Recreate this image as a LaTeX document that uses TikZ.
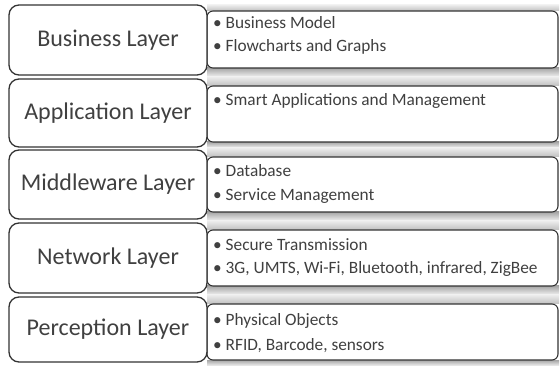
\documentclass[tikz,border=0pt]{standalone}
\usepackage{fontspec}
\setmainfont{Carlito}
\definecolor{inkdark}{HTML}{333333}
\definecolor{txtgray}{HTML}{404040}
\begin{document}
\begin{tikzpicture}[x=1pt,y=-1pt,
  layerbox/.style={draw=inkdark,line width=1.3pt,fill=white,rounded corners=10pt,
    minimum width=198pt,inner sep=0pt,font=\fontsize{24}{28}\selectfont,text=txtgray},
  infobox/.style={draw=inkdark,line width=1.1pt,fill=white,rounded corners=6pt,
    minimum width=351pt,inner sep=0pt},
  item/.style={anchor=base west,inner sep=0pt,font=\fontsize{17.3}{20}\selectfont,text=txtgray},
  bandtop/.style={top color=gray!15,bottom color=gray!50},
  bandbot/.style={top color=gray!70,bottom color=gray!10}]
\useasboundingbox (0,0) rectangle (560,366);
\fill[white] (0,0) rectangle (560,366);

% shaded bands behind the description boxes
\foreach \t/\a/\b/\e in {5/11/68/77, 77/86/142/148, 148/157/212/221, 221/230/286/295, 295/304/360/366}{
  \shade[bandtop] (207,\t) rectangle (559,\a);
  \shade[bandbot] (207,\b) rectangle (559,\e);
}

% description boxes
\node[infobox,minimum height=57pt] (R1) at (382.5,39.5) {};
\node[infobox,minimum height=56pt] (R2) at (382.5,114) {};
\node[infobox,minimum height=55pt] (R3) at (382.5,184.5) {};
\node[infobox,minimum height=56pt] (R4) at (382.5,258) {};
\node[infobox,minimum height=56pt] (R5) at (382.5,332) {};

% layer name boxes
\node[layerbox,minimum height=70pt] (L1) at (108,40) {Business Layer};
\node[layerbox,minimum height=68pt] (L2) at (108,113) {Application Layer};
\node[layerbox,minimum height=69pt] (L3) at (108,184.5) {Middleware Layer};
\node[layerbox,minimum height=70pt] (L4) at (108,258) {Network Layer};
\node[layerbox,minimum height=65pt] (L5) at (108,329.5) {Perception Layer};

% items
\node[item] (i11) at (213,29) {• Business Model};
\node[item] (i12) at (213,52) {• Flowcharts and Graphs};
\node[item] (i21) at (213,106) {• Smart Applications and Management};
\node[item] (i31) at (213,177) {• Database};
\node[item] (i32) at (213,201) {• Service Management};
\node[item] (i41) at (213,251) {• Secure Transmission};
\node[item] (i42) at (213,274) {• 3G, UMTS, Wi-Fi, Bluetooth, infrared, ZigBee};
\node[item] (i51) at (213,326) {• Physical Objects};
\node[item] (i52) at (213,350) {• RFID, Barcode, sensors};
\end{tikzpicture}
\end{document}
